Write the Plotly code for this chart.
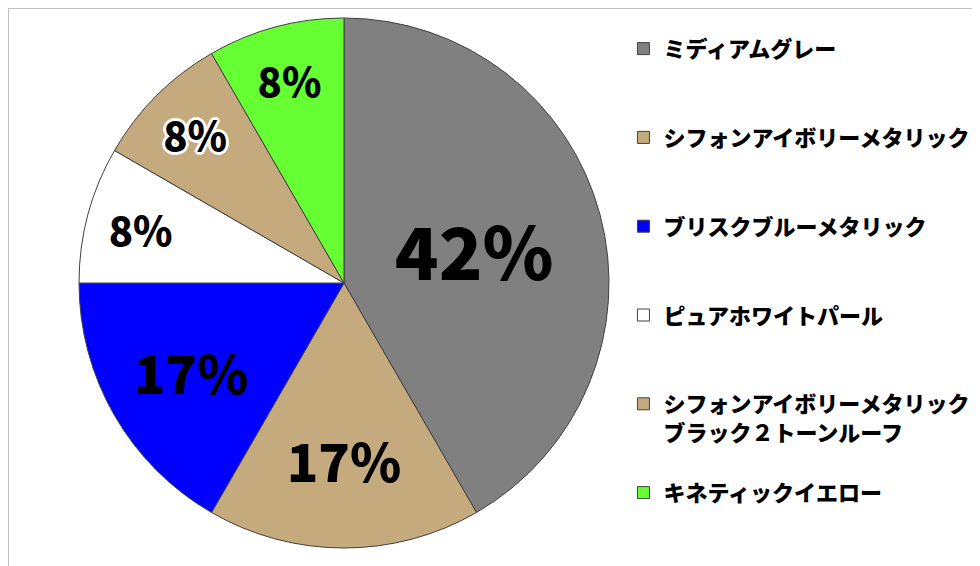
import plotly.graph_objects as go

# colour names (legend) and counts
labels = [
    "ミディアムグレー",
    "シフォンアイボリーメタリック",
    "ブリスクブルーメタリック",
    "ピュアホワイトパール",
    "シフォンアイボリーメタリック<br>ブラック２トーンルーフ",
    "キネティックイエロー",
]
counts = [5, 2, 2, 1, 1, 1]
colors = ["#808080", "#C4AA7D", "#0000FF", "#FFFFFF", "#C4AA7D", "#66FF33"]
label_sizes = [72, 52, 52, 40, 40, 40]
outline = "3px 0 0 #fff, -3px 0 0 #fff, 0 3px 0 #fff, 0 -3px 0 #fff, 2px 2px 0 #fff, -2px -2px 0 #fff, 2px -2px 0 #fff, -2px 2px 0 #fff"
label_shadow = ["none", "none", "none", "none", outline, "none"]

FONT = "Noto Sans CJK JP"

# pad legend entries to three lines so they spread down the right side
pad = [3, 3, 3, 3, 3, 1]
legend_names = []
for lab, n in zip(labels, pad):
    lines = lab.count("<br>") + 1
    legend_names.append(lab + "<br> " * max(n - lines, 0))

fig = go.Figure(go.Pie(
    labels=legend_names,
    values=counts,
    sort=False,
    direction="clockwise",
    rotation=0,
    marker=dict(colors=colors, line=dict(color="#404040", width=1)),
    texttemplate="%{percent:.0%}",
    textposition="inside",
    insidetextorientation="horizontal",
    textfont=dict(family=FONT, color="black", size=label_sizes, weight=900,
                  shadow=label_shadow),
    domain=dict(x=[71 / 980, 601 / 980], y=[26 / 566, 556 / 566]),
    hoverinfo="label+percent",
))

fig.update_layout(
    width=980, height=566,
    margin=dict(l=0, r=0, t=0, b=0),
    paper_bgcolor="white",
    showlegend=True,
    legend=dict(x=0.628, y=0.965, xanchor="left", yanchor="top", valign="top",
                font=dict(family=FONT, size=22, color="black", weight=900),
                bgcolor="rgba(0,0,0,0)"),
    shapes=[dict(type="rect", xref="paper", yref="paper", x0=0, y0=0, x1=1, y1=1,
                 line=dict(color="#c0c0c0", width=2))],
)

fig.write_html("out.html")
